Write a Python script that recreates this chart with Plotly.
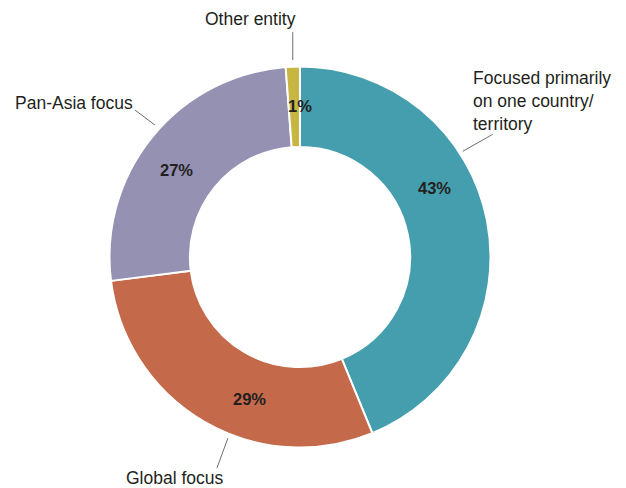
import math
import plotly.graph_objects as go

categories = ["Focused primarily<br>on one country/<br>territory", "Global focus", "Pan-Asia focus", "Other entity"]
values = [43.8, 29.2, 25.8, 1.2]
pct_labels = ["43%", "29%", "27%", "1%"]
colors = ["#459EAD", "#C4694A", "#9591B3", "#C8B642"]

W, H = 626, 488
CX, CY, R = 300, 257, 190.5
HOLE = 0.578

# label placement (fraction along slice for % text, angle/offsets for outer labels)
pct_frac = [0.397, 0.40, 0.457, 1.0]
pct_r = 151
leader = [  # (start angle clockwise-from-top deg, r_start, end dx, end dy, text x, text y, anchor)
    (57, 194, 30, -17, 471, 101, "left"),
    (201.7, 195, -11, 30, 175, 478, "center"),
    (312.3, 196, -20, -15, 74, 103, "center"),
    (357.9, 197, 0, -28, 250, 19, "center"),
]


def px2paper(x, y):
    return x / W, 1 - y / H


fig = go.Figure(go.Pie(
    values=values,
    labels=categories,
    marker=dict(colors=colors, line=dict(color="white", width=2)),
    hole=HOLE,
    sort=False,
    direction="clockwise",
    rotation=0,
    textinfo="none",
    hoverinfo="label",
    showlegend=False,
    domain=dict(x=[(CX - R) / W, (CX + R) / W], y=[1 - (CY + R) / H, 1 - (CY - R) / H]),
))

annotations = []
shapes = []
total = sum(values)
cum = 0
for i, v in enumerate(values):
    ang = (cum + pct_frac[i] * v) / total * 2 * math.pi
    x = CX + pct_r * math.sin(ang)
    y = CY - pct_r * math.cos(ang)
    px, py = px2paper(x, y)
    annotations.append(dict(x=px, y=py, xref="paper", yref="paper", text="<b>%s</b>" % pct_labels[i],
                            showarrow=False, xanchor="center", yanchor="middle",
                            font=dict(size=16.5, color="#231F20",
                                      family="Liberation Sans, Arial, sans-serif")))
    cum += v

for i, (a, rs, dx, dy, tx, ty, anc) in enumerate(leader):
    ar = math.radians(a)
    x0 = CX + rs * math.sin(ar)
    y0 = CY - rs * math.cos(ar)
    x1, y1 = x0 + dx, y0 + dy
    p0 = px2paper(x0, y0)
    p1 = px2paper(x1, y1)
    shapes.append(dict(type="line", xref="paper", yref="paper", x0=p0[0], y0=p0[1], x1=p1[0], y1=p1[1],
                       line=dict(color="#6d6e71", width=1)))
    tpx, tpy = px2paper(tx, ty)
    annotations.append(dict(x=tpx, y=tpy, xref="paper", yref="paper", text=categories[i],
                            showarrow=False, xanchor=anc, yanchor="middle", align="left",
                            font=dict(size=17.5, color="#231F20", family="Liberation Sans, Arial, sans-serif")))

fig.update_layout(
    width=W, height=H,
    margin=dict(l=0, r=0, t=0, b=0),
    paper_bgcolor="white", plot_bgcolor="white",
    annotations=annotations, shapes=shapes,
)

fig.write_html("out.html", config={"displayModeBar": False},
               post_script="document.body.style.margin='0px';")
